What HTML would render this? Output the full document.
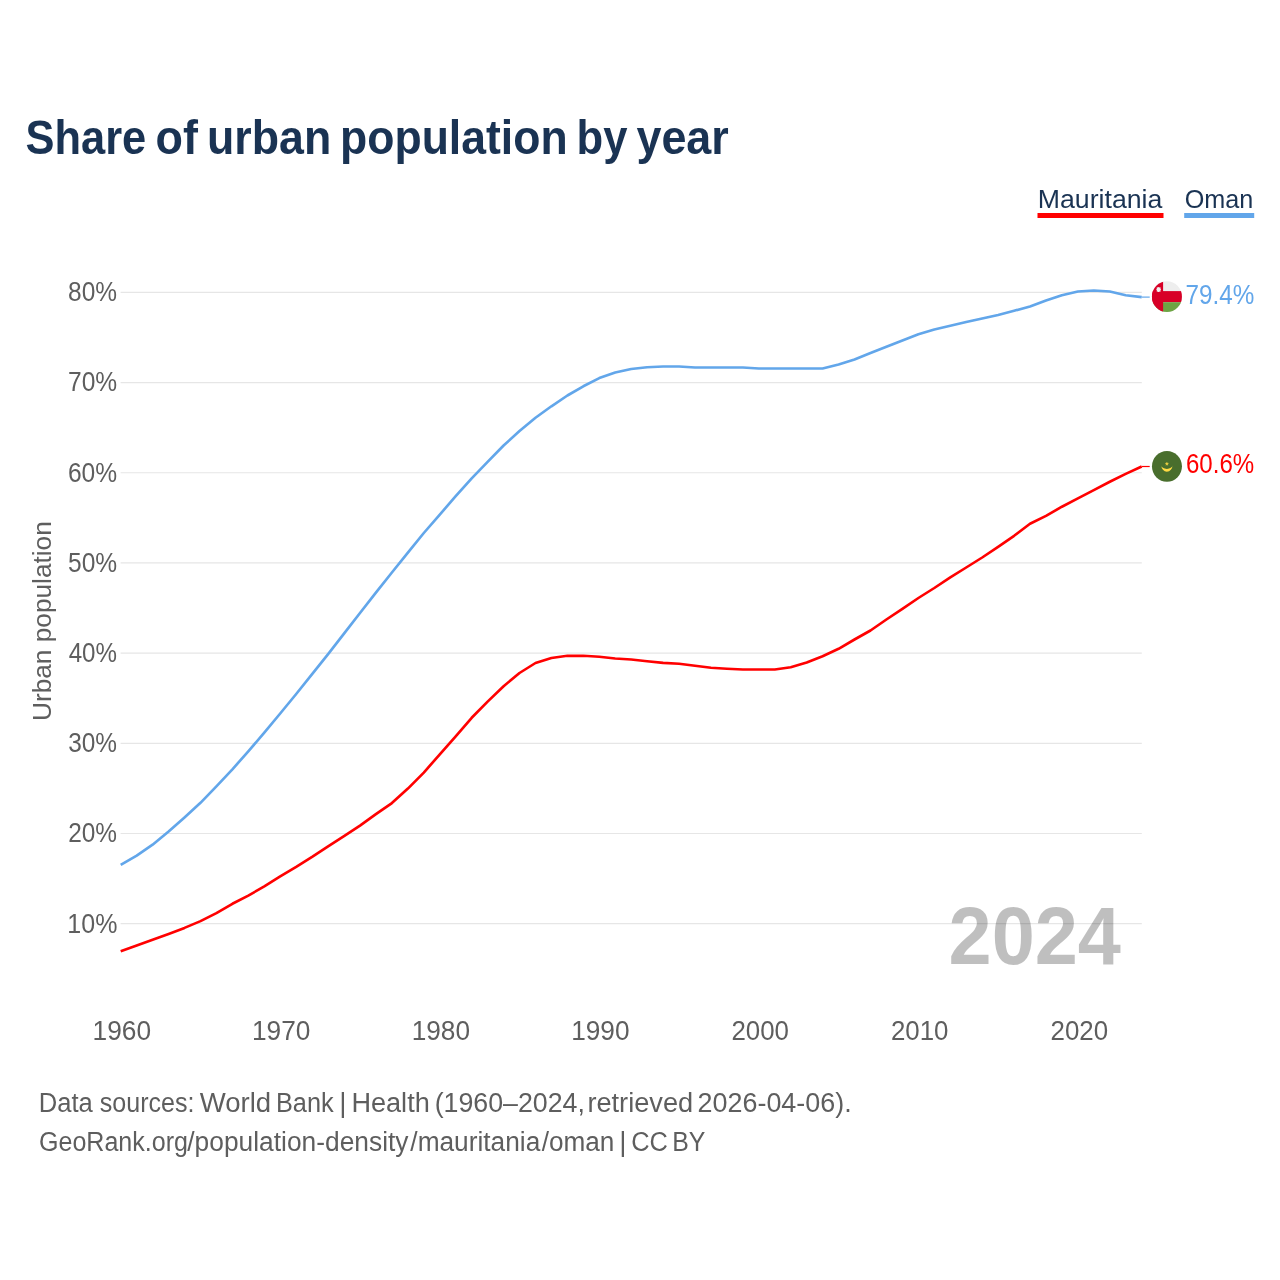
<!DOCTYPE html>
<html><head><meta charset="utf-8"><title>Share of urban population by year</title>
<style>
html,body{margin:0;padding:0;background:#fff;overflow:hidden;}
svg{display:block;will-change:transform;}
text{font-family:"Liberation Sans",sans-serif;}
</style></head><body>
<svg width="1280" height="1280" viewBox="0 0 1280 1280">
<rect width="1280" height="1280" fill="#ffffff"/>
<text x="25.56" y="153.80" font-size="48.5" font-weight="bold" fill="#1a3353" textLength="120.67" lengthAdjust="spacingAndGlyphs">Share</text>
<text x="155.52" y="153.80" font-size="48.5" font-weight="bold" fill="#1a3353" textLength="42.36" lengthAdjust="spacingAndGlyphs">of</text>
<text x="206.99" y="153.80" font-size="48.5" font-weight="bold" fill="#1a3353" textLength="124.25" lengthAdjust="spacingAndGlyphs">urban</text>
<text x="340.00" y="153.80" font-size="48.5" font-weight="bold" fill="#1a3353" textLength="227.63" lengthAdjust="spacingAndGlyphs">population</text>
<text x="576.55" y="153.80" font-size="48.5" font-weight="bold" fill="#1a3353" textLength="50.90" lengthAdjust="spacingAndGlyphs">by</text>
<text x="636.42" y="153.80" font-size="48.5" font-weight="bold" fill="#1a3353" textLength="92.40" lengthAdjust="spacingAndGlyphs">year</text>
<text x="1037.82" y="207.60" font-size="26.5" fill="#1a3353" textLength="124.56" lengthAdjust="spacingAndGlyphs">Mauritania</text>
<rect x="1037.5" y="213" width="126" height="5" fill="#ff0000"/>
<text x="1184.71" y="207.60" font-size="26.5" fill="#1a3353" textLength="68.68" lengthAdjust="spacingAndGlyphs">Oman</text>
<rect x="1184.2" y="213" width="70" height="5" fill="#62a6ea"/>
<line x1="120.6" x2="1141.8" y1="292.35" y2="292.35" stroke="#e6e6e6" stroke-width="1.2"/>
<text x="68.03" y="301.25" font-size="27.0" fill="#5e5e5e" textLength="48.98" lengthAdjust="spacingAndGlyphs">80%</text>
<line x1="120.6" x2="1141.8" y1="382.54" y2="382.54" stroke="#e6e6e6" stroke-width="1.2"/>
<text x="67.99" y="391.44" font-size="27.0" fill="#5e5e5e" textLength="49.21" lengthAdjust="spacingAndGlyphs">70%</text>
<line x1="120.6" x2="1141.8" y1="472.73" y2="472.73" stroke="#e6e6e6" stroke-width="1.2"/>
<text x="67.89" y="481.63" font-size="27.0" fill="#5e5e5e" textLength="49.24" lengthAdjust="spacingAndGlyphs">60%</text>
<line x1="120.6" x2="1141.8" y1="562.92" y2="562.92" stroke="#e6e6e6" stroke-width="1.2"/>
<text x="68.03" y="571.82" font-size="27.0" fill="#5e5e5e" textLength="49.17" lengthAdjust="spacingAndGlyphs">50%</text>
<line x1="120.6" x2="1141.8" y1="653.11" y2="653.11" stroke="#e6e6e6" stroke-width="1.2"/>
<text x="68.68" y="662.01" font-size="27.0" fill="#5e5e5e" textLength="48.33" lengthAdjust="spacingAndGlyphs">40%</text>
<line x1="120.6" x2="1141.8" y1="743.30" y2="743.30" stroke="#e6e6e6" stroke-width="1.2"/>
<text x="68.13" y="752.20" font-size="27.0" fill="#5e5e5e" textLength="48.88" lengthAdjust="spacingAndGlyphs">30%</text>
<line x1="120.6" x2="1141.8" y1="833.49" y2="833.49" stroke="#e6e6e6" stroke-width="1.2"/>
<text x="68.13" y="842.39" font-size="27.0" fill="#5e5e5e" textLength="48.86" lengthAdjust="spacingAndGlyphs">20%</text>
<line x1="120.6" x2="1141.8" y1="923.68" y2="923.68" stroke="#e6e6e6" stroke-width="1.2"/>
<text x="67.35" y="932.58" font-size="27.0" fill="#5e5e5e" textLength="50.04" lengthAdjust="spacingAndGlyphs">10%</text>
<text transform="translate(50.90,721.00) rotate(-90)" font-size="26.5" fill="#5e5e5e" textLength="199.78" lengthAdjust="spacingAndGlyphs">Urban population</text>
<text x="92.54" y="1039.60" font-size="26.8" fill="#5e5e5e" textLength="58.49" lengthAdjust="spacingAndGlyphs">1960</text>
<text x="251.99" y="1039.60" font-size="26.8" fill="#5e5e5e" textLength="58.42" lengthAdjust="spacingAndGlyphs">1970</text>
<text x="411.65" y="1039.60" font-size="26.8" fill="#5e5e5e" textLength="58.37" lengthAdjust="spacingAndGlyphs">1980</text>
<text x="571.17" y="1039.60" font-size="26.8" fill="#5e5e5e" textLength="58.33" lengthAdjust="spacingAndGlyphs">1990</text>
<text x="731.45" y="1039.60" font-size="26.8" fill="#5e5e5e" textLength="57.55" lengthAdjust="spacingAndGlyphs">2000</text>
<text x="890.97" y="1039.60" font-size="26.8" fill="#5e5e5e" textLength="57.53" lengthAdjust="spacingAndGlyphs">2010</text>
<text x="1050.52" y="1039.60" font-size="26.8" fill="#5e5e5e" textLength="57.60" lengthAdjust="spacingAndGlyphs">2020</text>
<text x="948.55" y="964.00" font-size="82" font-weight="bold" fill="#000000" fill-opacity="0.25" textLength="172.37" lengthAdjust="spacingAndGlyphs">2024</text>
<path d="M120.7,864.8 L136.7,855.6 L152.6,844.7 L168.6,831.5 L184.5,817.4 L200.5,802.8 L216.4,786.4 L232.4,769.3 L248.3,751.4 L264.3,732.6 L280.2,713.5 L296.2,694.0 L312.1,674.2 L328.1,654.1 L344.0,633.6 L360.0,613.0 L375.9,592.6 L391.9,572.5 L407.9,552.6 L423.8,533.0 L439.8,514.6 L455.7,496.2 L471.7,478.4 L487.6,461.9 L503.6,445.5 L519.5,431.1 L535.5,417.8 L551.4,406.3 L567.4,395.5 L583.3,386.3 L599.3,378.1 L615.2,372.5 L631.2,369.0 L647.1,367.2 L663.1,366.5 L679.1,366.5 L695.0,367.5 L711.0,367.5 L726.9,367.5 L742.9,367.5 L758.8,368.5 L774.8,368.5 L790.7,368.5 L806.7,368.5 L822.6,368.5 L838.6,364.5 L854.5,359.5 L870.5,353.1 L886.4,346.8 L902.4,340.5 L918.4,334.2 L934.3,329.5 L950.3,325.8 L966.2,322.0 L982.2,318.5 L998.1,315.0 L1014.1,310.8 L1030.0,306.5 L1046.0,300.5 L1061.9,295.2 L1077.9,291.5 L1093.8,290.5 L1109.8,291.5 L1125.7,295.2 L1141.7,297.1" fill="none" stroke="#62a6ea" stroke-width="2.65" stroke-linejoin="round"/>
<path d="M120.7,951.3 L136.7,945.5 L152.6,939.8 L168.6,934.0 L184.5,927.9 L200.5,921.1 L216.4,913.1 L232.4,903.8 L248.3,895.6 L264.3,886.4 L280.2,876.4 L296.2,866.9 L312.1,856.9 L328.1,846.3 L344.0,836.2 L360.0,825.6 L375.9,814.2 L391.9,803.1 L407.9,788.6 L423.8,772.6 L439.8,754.3 L455.7,736.3 L471.7,717.8 L487.6,701.6 L503.6,686.2 L519.5,673.0 L535.5,663.0 L551.4,658.0 L567.4,655.8 L583.3,655.8 L599.3,656.8 L615.2,658.5 L631.2,659.5 L647.1,661.2 L663.1,662.9 L679.1,663.8 L695.0,665.8 L711.0,667.8 L726.9,668.7 L742.9,669.5 L758.8,669.5 L774.8,669.5 L790.7,667.2 L806.7,662.5 L822.6,656.2 L838.6,648.8 L854.5,639.5 L870.5,630.5 L886.4,619.5 L902.4,608.8 L918.4,598.0 L934.3,588.0 L950.3,577.4 L966.2,567.5 L982.2,557.5 L998.1,546.8 L1014.1,535.8 L1030.0,523.8 L1046.0,515.9 L1061.9,506.7 L1077.9,498.4 L1093.8,490.1 L1109.8,481.8 L1125.7,473.9 L1141.7,466.5" fill="none" stroke="#ff0000" stroke-width="2.65" stroke-linejoin="round"/>
<line x1="1141.7" x2="1149.7" y1="297.1" y2="297.1" stroke="#62a6ea" stroke-width="1.2"/>
<line x1="1141.7" x2="1149.7" y1="466.5" y2="466.5" stroke="#ff0000" stroke-width="1.2"/>
<defs><clipPath id="co"><ellipse cx="1166.95" cy="296.65" rx="15" ry="15.45"/></clipPath></defs>
<g clip-path="url(#co)">
<rect x="1150" y="280" width="34" height="34" fill="#eeeeee"/>
<rect x="1150" y="291.1" width="34" height="11.1" fill="#d80027"/>
<rect x="1150" y="302.2" width="34" height="12" fill="#6da544"/>
<rect x="1150" y="280" width="13.1" height="34" fill="#d80027"/>
<path d="M1157.3 288l2.7 3M1160 288l-2.7 3M1157 289.5h3.3M1158.65 287.6v3.8" stroke="#f0f0f0" stroke-width="1.35" stroke-linecap="round" fill="none"/>
</g>
<ellipse cx="1166.95" cy="466.35" rx="15" ry="15.45" fill="#496e2d"/>
<path d="M1161.3 465.2 A5.6 6.5 0 0 0 1172.5 465.2 A5.6 3.7 0 0 1 1161.3 465.2Z" fill="#ffda44"/>
<path d="M1166.9 462.2l0.42 1.12 1.2 0.05-0.94 0.75 0.33 1.16-1.01-0.67-1.01 0.67 0.33-1.16-0.94-0.75 1.2-0.05z" fill="#ffda44" stroke="#ffda44" stroke-width="0.35" stroke-linejoin="round"/>

<text x="1185.56" y="303.80" font-size="27.2" fill="#62a6ea" textLength="68.78" lengthAdjust="spacingAndGlyphs">79.4%</text>
<text x="1185.92" y="472.50" font-size="27.2" fill="#ff0000" textLength="68.27" lengthAdjust="spacingAndGlyphs">60.6%</text>
<text x="38.75" y="1112.00" font-size="27" fill="#5e5e5e" textLength="54.04" lengthAdjust="spacingAndGlyphs">Data</text>
<text x="99.78" y="1112.00" font-size="27" fill="#5e5e5e" textLength="94.72" lengthAdjust="spacingAndGlyphs">sources:</text>
<text x="199.70" y="1112.00" font-size="27" fill="#5e5e5e" textLength="71.50" lengthAdjust="spacingAndGlyphs">World</text>
<text x="275.95" y="1112.00" font-size="27" fill="#5e5e5e" textLength="57.70" lengthAdjust="spacingAndGlyphs">Bank</text>
<text x="339.20" y="1112.00" font-size="27" fill="#5e5e5e" textLength="7.29" lengthAdjust="spacingAndGlyphs">|</text>
<text x="351.41" y="1112.00" font-size="27" fill="#5e5e5e" textLength="78.32" lengthAdjust="spacingAndGlyphs">Health</text>
<text x="434.69" y="1112.00" font-size="27" fill="#5e5e5e" textLength="150.24" lengthAdjust="spacingAndGlyphs">(1960–2024,</text>
<text x="587.41" y="1112.00" font-size="27" fill="#5e5e5e" textLength="105.72" lengthAdjust="spacingAndGlyphs">retrieved</text>
<text x="697.55" y="1112.00" font-size="27" fill="#5e5e5e" textLength="154.12" lengthAdjust="spacingAndGlyphs">2026-04-06).</text>
<text x="39.02" y="1151.00" font-size="27" fill="#5e5e5e" textLength="148.93" lengthAdjust="spacingAndGlyphs">GeoRank.org</text>
<text x="187.27" y="1151.00" font-size="27" fill="#5e5e5e" textLength="221.23" lengthAdjust="spacingAndGlyphs">/population-density</text>
<text x="410.34" y="1151.00" font-size="27" fill="#5e5e5e" textLength="129.98" lengthAdjust="spacingAndGlyphs">/mauritania</text>
<text x="541.71" y="1151.00" font-size="27" fill="#5e5e5e" textLength="72.70" lengthAdjust="spacingAndGlyphs">/oman</text>
<text x="619.20" y="1151.00" font-size="27" fill="#5e5e5e" textLength="7.29" lengthAdjust="spacingAndGlyphs">|</text>
<text x="631.25" y="1151.00" font-size="27" fill="#5e5e5e" textLength="36.67" lengthAdjust="spacingAndGlyphs">CC</text>
<text x="672.29" y="1151.00" font-size="27" fill="#5e5e5e" textLength="33.19" lengthAdjust="spacingAndGlyphs">BY</text>
</svg></body></html>
